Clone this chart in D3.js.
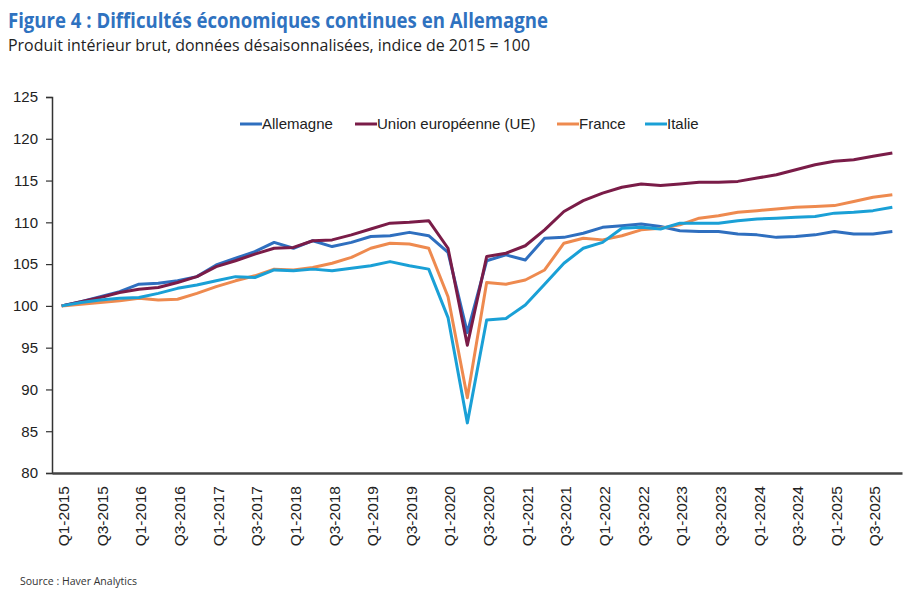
<!DOCTYPE html>
<html>
<head>
<meta charset="utf-8">
<script src="https://cdn.jsdelivr.net/npm/d3@7"></script>
<style>
    body { margin: 0; background: #fff; }
    svg { display: block; font-family: "Liberation Sans", Arial, sans-serif; }
</style>
</head>
<body>
<svg id="chart" width="920" height="600"></svg>
<script>
const quarters = [];
for (let y = 2015; y <= 2025; y++) {
    for (let q = 1; q <= 4; q++) quarters.push(`Q${q}-${y}`);
}

const allemagne = [
    100.0, 100.5, 101.1, 101.7, 102.6, 102.7, 103.0, 103.5,
    104.9, 105.7, 106.5, 107.6, 106.9, 107.8, 107.1, 107.6,
    108.3, 108.4, 108.8, 108.4, 106.4, 96.8, 105.4, 106.1,
    105.5, 108.1, 108.2, 108.7, 109.4, 109.6, 109.8, 109.5,
    109.0, 108.9, 108.9, 108.6, 108.5, 108.2, 108.3, 108.5,
    108.9, 108.6, 108.6, 108.9
];
const ue = [
    100.0, 100.5, 101.0, 101.6, 102.0, 102.2, 102.8, 103.5,
    104.7, 105.4, 106.2, 106.9, 107.0, 107.8, 107.9, 108.5,
    109.2, 109.9, 110.0, 110.2, 106.9, 95.3, 105.9, 106.3,
    107.2, 109.1, 111.3, 112.6, 113.5, 114.2, 114.6, 114.4,
    114.6, 114.8, 114.8, 114.9, 115.3, 115.7, 116.3, 116.9,
    117.3, 117.5, 117.9, 118.3
];
const france = [
    100.0, 100.2, 100.4, 100.6, 100.9, 100.7, 100.8, 101.5,
    102.3, 103.0, 103.6, 104.4, 104.3, 104.6, 105.1, 105.8,
    106.9, 107.5, 107.4, 106.9, 101.1, 89.0, 102.8, 102.6,
    103.1, 104.3, 107.5, 108.1, 107.9, 108.4, 109.1, 109.3,
    109.7, 110.5, 110.8, 111.2, 111.4, 111.6, 111.8, 111.9,
    112.0, 112.5, 113.0, 113.3
];
const italie = [
    100.0, 100.4, 100.7, 100.9, 101.0, 101.5, 102.1, 102.5,
    103.0, 103.5, 103.4, 104.3, 104.2, 104.4, 104.2, 104.5,
    104.8, 105.3, 104.8, 104.4, 98.6, 86.0, 98.3, 98.5,
    100.1, 102.6, 105.1, 106.9, 107.6, 109.3, 109.4, 109.2,
    109.9, 109.9, 109.9, 110.2, 110.4, 110.5, 110.6, 110.7,
    111.1, 111.2, 111.4, 111.8
];
const yTicks = [80, 85, 90, 95, 100, 105, 110, 115, 120, 125];

const series = [
    { name: "Allemagne", values: allemagne, color: "#2f6fbf", legendX: 240 },
    { name: "Union européenne (UE)", values: ue, color: "#7a1c48", legendX: 355 },
    { name: "France", values: france, color: "#ee8a4f", legendX: 557 },
    { name: "Italie", values: italie, color: "#1aa0d6", legendX: 645 }
];

const svg = d3.select("#chart");
const plotLeft = 52, plotRight = 902, plotTop = 97, plotBottom = 473;

const xScale = d3.scaleBand().domain(quarters).range([plotLeft, plotRight]);
const yScale = d3.scaleLinear().domain([80, 125]).range([plotBottom, plotTop]);
const xPos = function (q) { return xScale(q) + xScale.bandwidth() / 2; };

// titles
svg.append("text")
    .attr("x", 8).attr("y", 28)
    .attr("font-family", "'Open Sans', 'Noto Sans', sans-serif")
    .attr("font-weight", "bold")
    .attr("font-size", 22)
    .attr("fill", "#2f72c0")
    .attr("textLength", 540)
    .attr("lengthAdjust", "spacingAndGlyphs")
    .text("Figure 4 : Difficultés économiques continues en Allemagne");

svg.append("text")
    .attr("x", 8).attr("y", 51)
    .attr("font-family", "'Open Sans', 'Noto Sans', sans-serif")
    .attr("font-size", 16)
    .attr("fill", "#222")
    .attr("textLength", 522)
    .attr("lengthAdjust", "spacingAndGlyphs")
    .text("Produit intérieur brut, données désaisonnalisées, indice de 2015 = 100");

// y axis
const yAxis = svg.append("g")
    .attr("transform", `translate(${plotLeft}, 0)`)
    .call(d3.axisLeft(yScale).tickValues(yTicks).tickSize(6).tickPadding(8).tickFormat(d3.format("d")));
yAxis.select(".domain").attr("stroke", "#333").attr("stroke-width", 1.5);
yAxis.selectAll(".tick line").attr("stroke", "#333").attr("stroke-width", 1.2);
yAxis.selectAll(".tick text")
    .attr("font-size", 15)
    .attr("font-family", "'Liberation Sans', Arial, sans-serif")
    .attr("fill", "#222");

// x axis
const xAxis = svg.append("g")
    .attr("transform", `translate(0, ${plotBottom})`)
    .call(d3.axisBottom(xScale)
        .tickValues(quarters.filter(function (d, i) { return i % 2 === 0; }))
        .tickSize(0));
xAxis.select(".domain").attr("stroke", "#444").attr("stroke-width", 2.5);
xAxis.selectAll(".tick text")
    .attr("transform", "rotate(-90)")
    .attr("x", -13)
    .attr("y", 2)
    .attr("dy", "0.35em")
    .style("text-anchor", "end")
    .attr("font-size", 15.5)
    .attr("font-family", "'Liberation Sans', Arial, sans-serif")
    .attr("fill", "#222");

// lines
const line = d3.line()
    .x(function (d, i) { return xPos(quarters[i]); })
    .y(function (d) { return yScale(d); });

series.forEach(function (s) {
    svg.append("path")
        .datum(s.values)
        .attr("fill", "none")
        .attr("stroke", s.color)
        .attr("stroke-width", 3)
        .attr("stroke-linejoin", "round")
        .attr("d", line);
});

// legend
const legend = svg.append("g");
series.forEach(function (s) {
    legend.append("line")
        .attr("x1", s.legendX).attr("x2", s.legendX + 22)
        .attr("y1", 124).attr("y2", 124)
        .attr("stroke", s.color)
        .attr("stroke-width", 3);
    legend.append("text")
        .attr("x", s.legendX + 22).attr("y", 124)
        .attr("dy", "0.35em")
        .attr("font-size", 15)
        .attr("fill", "#222")
        .text(s.name);
});

// source
svg.append("text")
    .attr("x", 20).attr("y", 585)
    .attr("font-family", "'Open Sans', 'Noto Sans', sans-serif")
    .attr("font-size", 11)
    .attr("fill", "#333")
    .attr("textLength", 117)
    .attr("lengthAdjust", "spacingAndGlyphs")
    .text("Source : Haver Analytics");
</script>
</body>
</html>
